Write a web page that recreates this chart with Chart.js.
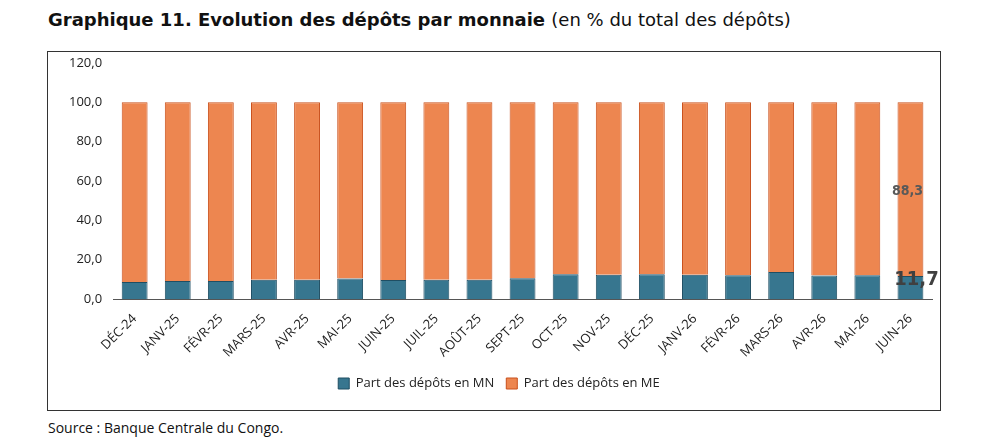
<!DOCTYPE html>
<html><head><meta charset="utf-8">
<script src="https://cdn.jsdelivr.net/npm/chart.js@4.4.0/dist/chart.umd.min.js"></script>
<style>
body{margin:0;background:#fff;font-family:"Open Sans",sans-serif;}
#title{position:absolute;left:48px;top:9px;font-size:18px;font-weight:bold;color:#111;font-family:"DejaVu Sans",sans-serif;}
#title span{font-weight:normal;}
#box{position:absolute;left:47px;top:51px;width:892px;height:358px;border:1px solid #333;}
#src{position:absolute;left:48px;top:418px;font-size:14px;color:#111;}
</style></head><body>
<div id="title">Graphique 11. Evolution des dépôts par monnaie <span>(en % du total des dépôts)</span></div>
<div id="box"><canvas id="myChart" width="892" height="358"></canvas></div>
<div id="src">Source : Banque Centrale du Congo.</div>
<script>
var months = ["DÉC-24","JANV-25","FÉVR-25","MARS-25","AVR-25","MAI-25","JUIN-25","JUIL-25","AOÛT-25","SEPT-25","OCT-25","NOV-25","DÉC-25","JANV-26","FÉVR-26","MARS-26","AVR-26","MAI-26","JUIN-26"];
var shareMN = [8.6, 9.1, 9.1, 9.8, 9.8, 10.4, 9.6, 9.8, 9.8, 10.5, 12.6, 12.3, 12.6, 12.3, 12.1, 13.7, 11.9, 12.1, 11.7];
var shareME = shareMN.map(function (v) { return Math.round((100 - v) * 10) / 10; });

// labels only on the last bar
var lastLabels = {
  id: 'lastLabels',
  afterDatasetsDraw: function (chart) {
    var c = chart.ctx, i = months.length - 1;
    var mn = chart.getDatasetMeta(0).data[i], me = chart.getDatasetMeta(1).data[i];
    c.save();
    c.textAlign = 'center';
    c.font = 'bold 14px "DejaVu Sans Condensed", sans-serif';
    c.fillStyle = '#595959';
    c.fillText(shareME[i].toFixed(1).replace('.', ','), me.x - 3, 139);
    c.font = 'bold 20px "DejaVu Sans Condensed", sans-serif';
    c.fillStyle = '#404040';
    c.fillText(shareMN[i].toFixed(1).replace('.', ','), mn.x + 6, 228);
    c.restore();
  }
};

new Chart(document.getElementById('myChart').getContext('2d'), {
  type: 'bar',
  data: {
    labels: months,
    datasets: [
      { label: 'Part des dépôts en MN', data: shareMN, backgroundColor: '#37768f', borderColor: '#1f4e63', borderWidth: 1 },
      { label: 'Part des dépôts en ME', data: shareME, backgroundColor: '#ed8650', borderColor: '#c9501c', borderWidth: 1 }
    ]
  },
  options: {
    responsive: false,
    animation: false,
    layout: { padding: { left: 18, right: 8, top: 6, bottom: 10 } },
    datasets: { bar: { categoryPercentage: 1, barPercentage: 0.6 } },
    plugins: {
      legend: {
        position: 'bottom',
        labels: { boxWidth: 11, boxHeight: 11, color: '#222', font: { size: 13, family: '"Open Sans"' }, padding: 12 }
      },
      tooltip: { enabled: false }
    },
    scales: {
      x: {
        stacked: true,
        grid: { display: false },
        border: { color: '#555' },
        ticks: { maxRotation: 45, minRotation: 45, color: '#222', padding: 4, font: { size: 13, family: '"Open Sans"' } },
        afterFit: function (s) { s.height = 66; }
      },
      y: {
        stacked: true, min: 0, max: 120,
        grid: { display: false },
        border: { display: false },
        ticks: { stepSize: 20, color: '#222', font: { size: 13, family: '"Open Sans"' },
          callback: function (v) { return v.toFixed(1).replace('.', ','); } }
      }
    }
  },
  plugins: [lastLabels]
});
</script>
</body></html>
